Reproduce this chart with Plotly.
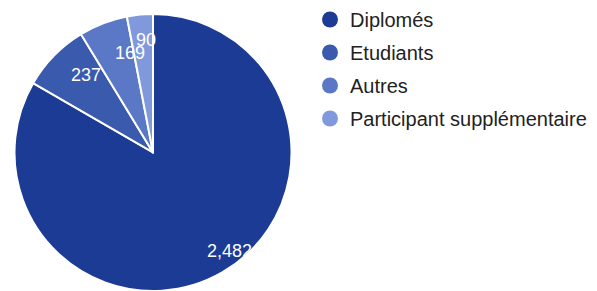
import math
import plotly.graph_objects as go

categories = ["Diplomés", "Etudiants", "Autres", "Participant supplémentaire"]
values = [2482, 237, 169, 90]
value_labels = ["2,482", "237", "169", "90"]

colors = ["#1b3b94", "#3a5aae", "#5a78c6", "#8099dc"]
label_radius = [0.90, 0.74, 0.74, 0.81]
label_angle_offset = [-8, 5, 8, 2]

W, H = 597, 291
dom_x = [0.0243, 0.4883]
dom_y = [0.0, 0.952]
FONT = "Liberation Sans, Arial"

fig = go.Figure()
fig.add_trace(go.Pie(
    labels=categories, values=values, sort=False, direction="clockwise", rotation=0,
    marker=dict(colors=colors, line=dict(color="white", width=2)),
    textinfo="none", hoverinfo="label+value", showlegend=False,
    domain=dict(x=dom_x, y=dom_y),
))

# legend entries with circular symbols
for cat, col in zip(categories, colors):
    fig.add_trace(go.Scatter(x=[None], y=[None], mode="markers", name=cat,
                             legendgroup=cat,
                             marker=dict(color=col, size=18, symbol="circle")))

# value labels placed from slice mid-angles
total = sum(values)
cx = (dom_x[0] + dom_x[1]) / 2 * W
cy = (dom_y[0] + dom_y[1]) / 2 * H
R = min((dom_x[1] - dom_x[0]) * W, (dom_y[1] - dom_y[0]) * H) / 2
cum = 0
for v, lab, f, da in zip(values, value_labels, label_radius, label_angle_offset):
    mid = (cum + v / 2) / total * 2 * math.pi + math.radians(da)
    cum += v
    px = cx + f * R * math.sin(mid)
    py = cy + f * R * math.cos(mid)
    fig.add_annotation(x=px / W, y=py / H, xref="paper", yref="paper", text=lab,
                       showarrow=False, font=dict(color="white", size=18, family=FONT),
                       xanchor="center", yanchor="middle")

fig.update_layout(
    width=W, height=H, margin=dict(l=0, r=0, t=0, b=0),
    paper_bgcolor="white", plot_bgcolor="white",
    xaxis=dict(visible=False), yaxis=dict(visible=False),
    font=dict(family=FONT, size=20, color="#222222"),
    legend=dict(x=310 / W, y=1.0, xanchor="left", yanchor="top", traceorder="grouped",
                tracegroupgap=4, font=dict(size=20, color="#222222", family=FONT),
                bgcolor="rgba(0,0,0,0)"),
)

fig.write_html("out.html", config={"displayModeBar": False},
               post_script="document.body.style.margin='0';document.body.style.overflow='hidden';")
